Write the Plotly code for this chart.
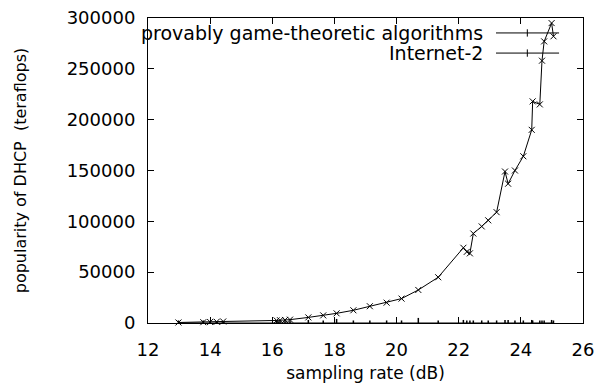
import plotly.graph_objects as go

# sampling rate (dB)
x_vals = [12.98, 13.78, 14.0, 14.21, 14.42, 16.14, 16.25, 16.41, 16.57, 17.16,
          17.64, 18.07, 18.61, 19.14, 19.68, 20.16, 20.7, 21.34, 22.15, 22.26,
          22.36, 22.47, 22.74, 22.95, 23.22, 23.49, 23.59, 23.81, 24.08, 24.35,
          24.38, 24.61, 24.68, 24.75, 24.99, 25.05]
# provably game-theoretic algorithms (rising curve)
curve_vals = [500, 800, 1000, 1200, 1500, 2500, 2700, 3000, 3300, 5500,
              7500, 9500, 12500, 16500, 20000, 24000, 32500, 45000, 74000, 70000,
              68500, 88000, 95000, 101000, 109000, 149000, 137000, 150000, 164000, 190000,
              218000, 215000, 258000, 277000, 295000, 282000]
# Internet-2 (flat near zero)
flat_vals = [0] * len(x_vals)
flat_err = [2500, 2500, 1500, 1500, 1500, 2500, 2500, 2500, 2500, 3000,
            2500, 4000, 2500, 2500, 2500, 2500, 5000, 2500, 3000, 2500,
            2500, 2500, 2500, 2500, 2500, 3000, 3000, 2500, 2500, 3000,
            2500, 2500, 2500, 2500, 3000, 2500]

series_names = ["provably game-theoretic algorithms", "Internet-2"]
x_ticks = [12, 14, 16, 18, 20, 22, 24, 26]
y_ticks = [0, 50000, 100000, 150000, 200000, 250000, 300000]

FONT = "DejaVu Sans"

fig = go.Figure()
fig.add_trace(go.Scatter(
    x=x_vals, y=curve_vals, mode="lines+markers", name=series_names[0],
    line=dict(color="black", width=1),
    marker=dict(symbol="x-thin", size=6, line=dict(color="black", width=1)),
    cliponaxis=False, showlegend=False))
fig.add_trace(go.Scatter(
    x=x_vals, y=flat_vals, mode="lines", name=series_names[1],
    line=dict(color="black", width=1),
    error_y=dict(type="data", array=flat_err, color="black", thickness=1.5, width=0),
    cliponaxis=False, showlegend=False))

axis_common = dict(
    showgrid=False, zeroline=False, showline=True, linecolor="black", linewidth=1,
    mirror="ticks", ticks="inside", ticklen=6, tickcolor="black", tickwidth=1,
    tickfont=dict(family=FONT, size=18, color="black"), automargin=False,
)

fig.update_layout(
    width=602, height=386,
    margin=dict(l=148, r=19, t=18, b=63),
    paper_bgcolor="white", plot_bgcolor="white",
    xaxis=dict(range=[12, 26], tickvals=x_ticks, ticklabelstandoff=10,
               title=dict(text="sampling rate (dB)", font=dict(family=FONT, size=17, color="black"), standoff=8),
               **axis_common),
    yaxis=dict(range=[0, 300000], tickvals=y_ticks, tickformat="d", ticklabelstandoff=8,
               title=dict(text="popularity of DHCP  (teraflops)", font=dict(family=FONT, size=16, color="black"), standoff=36),
               **axis_common),
)

# gnuplot-style key: text right-aligned, sample line to the right
key_y = [0.951, 0.885]
for name, ky in zip(series_names, key_y):
    fig.add_annotation(xref="paper", yref="paper", x=0.775, y=ky, text=name,
                       showarrow=False, xanchor="right", yanchor="middle",
                       font=dict(family=FONT, size=19, color="black"))
    fig.add_shape(type="line", xref="paper", yref="paper", x0=0.80, x1=0.945,
                  y0=ky, y1=ky, line=dict(color="black", width=1))
    fig.add_shape(type="line", xref="paper", yref="paper", x0=0.872, x1=0.872,
                  y0=ky - 0.012, y1=ky + 0.012, line=dict(color="black", width=1))

fig.write_html("out.html", config={"displayModeBar": False},
               post_script="document.body.style.margin='0';")
